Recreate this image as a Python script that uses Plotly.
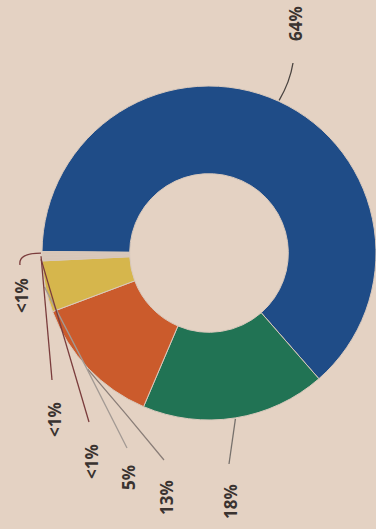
import numpy as np
import plotly.graph_objects as go

# ---- data ----
categories = ["Slice 1", "Slice 2", "Slice 3", "Slice 4", "Slice 5", "Slice 6", "Slice 7"]
values = [64, 18, 13, 5, 0.3, 0.3, 0.3]
value_labels = ["64%", "18%", "13%", "5%", "<1%", "<1%", "<1%"]

# ---- style / layout ----
W, H = 376, 529
BG = "#e4d2c3"
colors = ["#1f4c87", "#217354", "#cb5b2c", "#d6b64c", "#d8c6b8", "#d8c6b8", "#d8c6b8"]
CX, CY, R = 209, 253, 167          # pie centre and outer radius, px
HOLE = 0.475
ROT = 270.5
label_pos = [(296, 24), (230, 502), (166, 498), (128, 478), (91, 462), (54, 420), (21, 296)]
line_end = [(293, 63), (229, 464), (164, 460), (127, 448), (89, 422), (52, 380), (20, 265)]
line_col = ["#4a4440", "#77716c", "#8a7e78", "#a39a94", "#7a3c3c", "#7a3c3c", "#7a3c3c"]
bend = [4, 0, 1, 1, 0, 0, 0]


def px(x, y):
    return x / W, 1 - y / H


fig = go.Figure(go.Pie(
    labels=categories, values=values, sort=False, direction="clockwise",
    rotation=ROT, hole=HOLE, textinfo="none", showlegend=False,
    marker=dict(colors=colors, line=dict(color="#d9c9bc", width=1)),
    domain=dict(x=[(CX - R) / W, min(1, (CX + R) / W)],
                y=[1 - (CY + R) / H, 1 - (CY - R) / H]),
))

total = float(sum(values))
cum = np.concatenate([[0], np.cumsum(values)[:-1]])
mids = np.radians(ROT + 360 * (cum + np.array(values) / 2) / total)

shapes, annotations = [], []
for i, lab in enumerate(value_labels):
    ax = CX + (R + 1) * np.sin(mids[i])
    ay = CY - (R + 1) * np.cos(mids[i])
    ex, ey = line_end[i]
    x0, y0 = px(ax, ay)
    x1, y1 = px(ex, ey)
    if i == 6:
        cx_, cy_ = px(18, ay)
    else:
        cx_, cy_ = px((ax + ex) / 2 + bend[i], (ay + ey) / 2)
    path = f"M {x0},{y0} Q {cx_},{cy_} {x1},{y1}"
    shapes.append(dict(type="path", xref="paper", yref="paper", path=path,
                       line=dict(color=line_col[i], width=1.3)))
    lx, ly = px(*label_pos[i])
    annotations.append(dict(x=lx, y=ly, xref="paper", yref="paper", text=f"<b>{lab}</b>",
                            showarrow=False, textangle=-90, xanchor="center", yanchor="middle",
                            font=dict(family="Open Sans", size=17, color="#3a3330")))

fig.update_layout(
    width=W, height=H, margin=dict(l=0, r=0, t=0, b=0),
    paper_bgcolor=BG, plot_bgcolor=BG,
    shapes=shapes, annotations=annotations,
)

fig.write_html("out.html")
